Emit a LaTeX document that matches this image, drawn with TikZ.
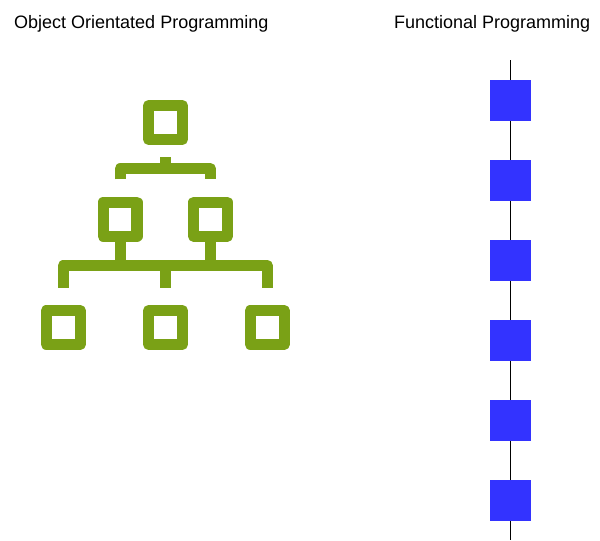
\documentclass[tikz,border=0pt]{standalone}
\usepackage{fontspec}
\setmainfont{Liberation Sans}
\definecolor{iconolive}{RGB}{122,161,22}
\definecolor{fnblue}{RGB}{51,51,255}
\begin{document}
\begin{tikzpicture}[x=1pt,y=-1pt,
  gbox/.style={draw=iconolive,line width=11.2pt,minimum size=33.8pt,inner sep=0pt,line join=round},
  gconn/.style={draw=iconolive,line width=11pt,line cap=butt,line join=round},
  fbox/.style={fill=fnblue,minimum size=41pt,inner sep=0pt},
  fline/.style={draw=black,line width=1.6pt},
  title/.style={font=\fontsize{18pt}{21pt}\selectfont,anchor=base west,inner sep=0pt}]
\useasboundingbox (0,0) rectangle (600,541);
% titles
\node[title] (t1) at (14,28) {Object Orientated Programming};
\node[title] (t2) at (394,28) {Functional Programming};
% hierarchy icon
\node[gbox] (top) at (165.5,122.5) {};
\node[gbox] (ml) at (120,219.2) {};
\node[gbox] (mr) at (210.5,219.2) {};
\node[gbox] (bl) at (63.3,327.5) {};
\node[gbox] (bc) at (165.5,327.5) {};
\node[gbox] (br) at (267.2,327.5) {};
\coordinate (j1) at (165.5,168.8);
\coordinate (j2) at (165.5,265.5);
\draw[gconn,shorten <=12.3pt] (top.south) -- (j1);
\draw[gconn,shorten <=17.3pt,shorten >=17.3pt] (ml.north) |- (j1) -| (mr.north);
\draw[gconn] (ml.south) -- (ml.south |- j2);
\draw[gconn] (mr.south) -- (mr.south |- j2);
\draw[gconn,shorten <=17.3pt,shorten >=17.3pt] (bl.north) |- (j2) -| (br.north);
\draw[gconn,shorten <=17.3pt] (bc.north) -- (j2);
% functional chain
\foreach \i in {1,...,6} {
  \node[fbox] (f\i) at (510.5,{100.5+80*(\i-1)}) {};
}
\coordinate (ftop) at (510.5,60);
\coordinate (fbot) at (510.5,540);
\draw[fline] (ftop) -- (f1.north);
\draw[fline] (f1.south) -- (f2.north);
\draw[fline] (f2.south) -- (f3.north);
\draw[fline] (f3.south) -- (f4.north);
\draw[fline] (f4.south) -- (f5.north);
\draw[fline] (f5.south) -- (f6.north);
\draw[fline] (f6.south) -- (fbot);
\end{tikzpicture}
\end{document}
